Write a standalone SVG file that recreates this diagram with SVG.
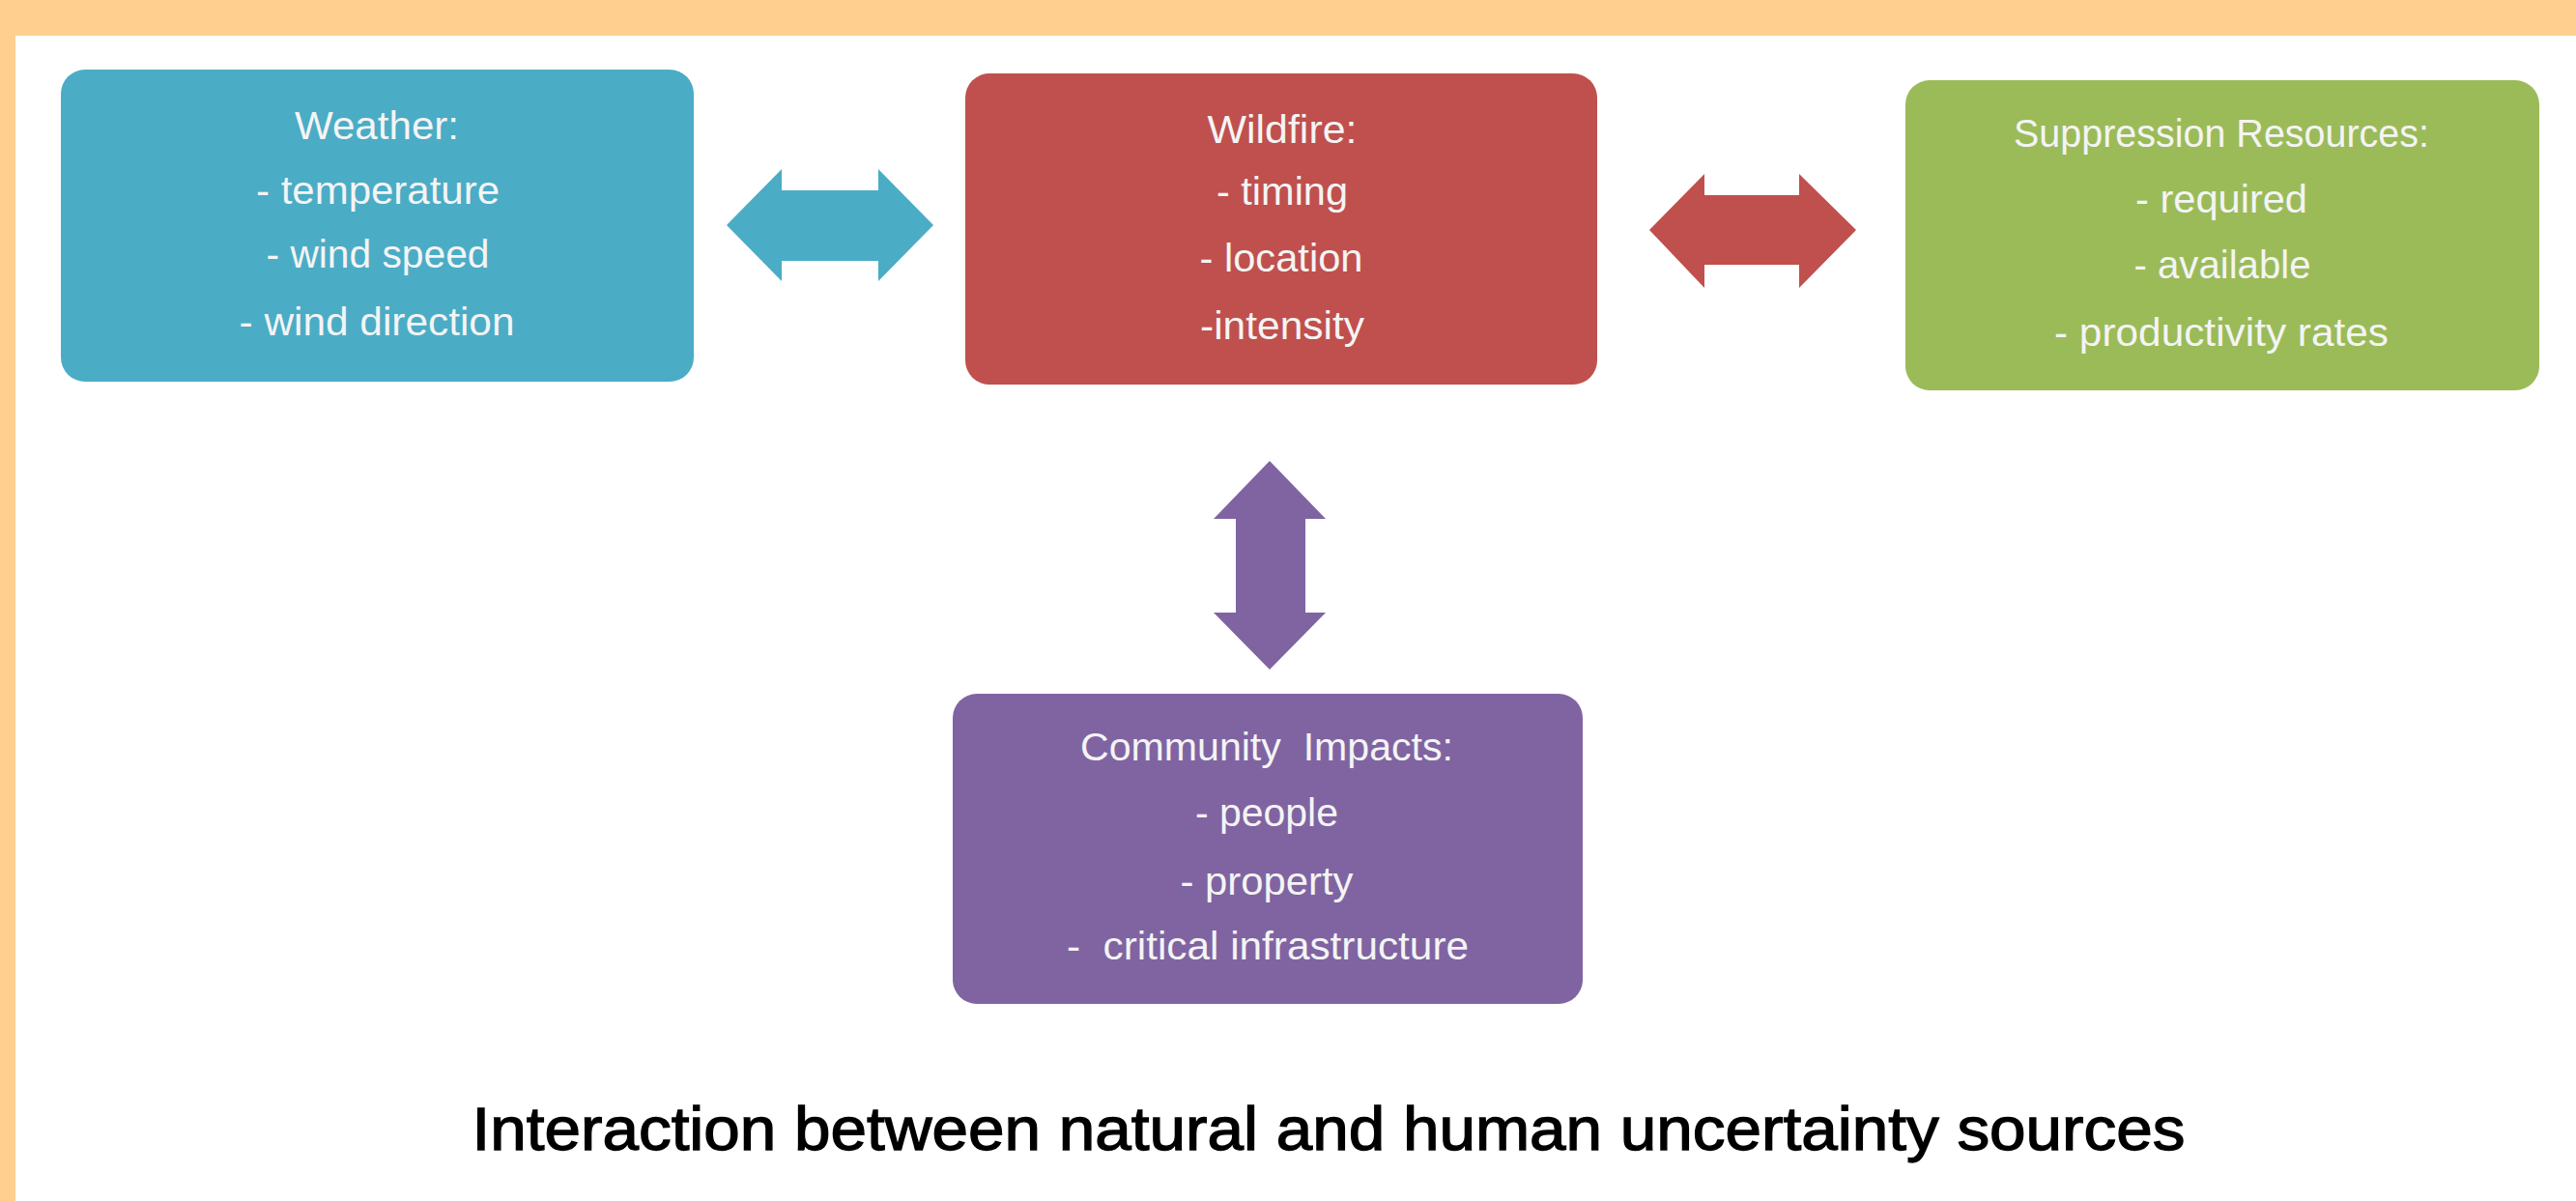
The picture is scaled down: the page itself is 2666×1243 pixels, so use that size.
<svg xmlns="http://www.w3.org/2000/svg" width="2666" height="1243" viewBox="0 0 2666 1243">
  <style>
    .box-text { font-family: "Liberation Sans", Arial, sans-serif; font-size: 41px; fill: #f4f4f4; text-anchor: middle; }
    .title { font-family: "Liberation Sans", Arial, sans-serif; font-size: 63px; fill: #000000; stroke: #000000; stroke-width: 1.3px; text-anchor: middle; }
    .weather { fill: #4BACC6; }
    .wildfire { fill: #C0504D; }
    .suppression { fill: #9BBB59; }
    .community { fill: #8064A2; }
  </style>

  <!-- page background with orange frame along top and left -->
  <rect x="0" y="0" width="2666" height="1243" fill="#ffffff"/>
  <rect x="0" y="0" width="2666" height="37" fill="#FFCF8F"/>
  <rect x="0" y="0" width="16" height="1243" fill="#FFCF8F"/>

  <!-- connectors: block double arrows -->
  <g id="connectors">
    <polygon class="weather" points="752,233 809,175 809,197 909,197 909,175 966,233 909,291 909,270 809,270 809,291"/>
    <polygon class="wildfire" points="1707,238 1764,180 1764,202 1862,202 1862,180 1921,238 1862,298 1862,274 1764,274 1764,298"/>
    <polygon class="community" points="1314,477 1372,537 1351,537 1351,634 1372,634 1314,693 1256,634 1279,634 1279,537 1256,537"/>
  </g>

  <g id="node-weather">
    <rect class="weather" x="63" y="72" width="655" height="323" rx="25" ry="25"/>
    <text class="box-text" x="390" y="144" textLength="170" lengthAdjust="spacingAndGlyphs">Weather:</text>
    <text class="box-text" x="391" y="211" textLength="252" lengthAdjust="spacingAndGlyphs">- temperature</text>
    <text class="box-text" x="391" y="277" textLength="231" lengthAdjust="spacingAndGlyphs">- wind speed</text>
    <text class="box-text" x="390" y="347" textLength="285" lengthAdjust="spacingAndGlyphs">- wind direction</text>
  </g>

  <g id="node-wildfire">
    <rect class="wildfire" x="999" y="76" width="654" height="322" rx="25" ry="25"/>
    <text class="box-text" x="1327" y="148" textLength="155" lengthAdjust="spacingAndGlyphs">Wildfire:</text>
    <text class="box-text" x="1327" y="212" textLength="136" lengthAdjust="spacingAndGlyphs">- timing</text>
    <text class="box-text" x="1326" y="281" textLength="169" lengthAdjust="spacingAndGlyphs">- location</text>
    <text class="box-text" x="1327" y="351" textLength="170" lengthAdjust="spacingAndGlyphs">-intensity</text>
  </g>

  <g id="node-suppression">
    <rect class="suppression" x="1972" y="83" width="656" height="321" rx="25" ry="25"/>
    <text class="box-text" x="2299" y="152" textLength="430" lengthAdjust="spacingAndGlyphs">Suppression Resources:</text>
    <text class="box-text" x="2299" y="220" textLength="178" lengthAdjust="spacingAndGlyphs">- required</text>
    <text class="box-text" x="2300" y="288" textLength="183" lengthAdjust="spacingAndGlyphs">- available</text>
    <text class="box-text" x="2299" y="358" textLength="346" lengthAdjust="spacingAndGlyphs">- productivity rates</text>
  </g>

  <g id="node-community">
    <rect class="community" x="986" y="718" width="652" height="321" rx="25" ry="25"/>
    <text class="box-text" x="1311" y="787" textLength="386" lengthAdjust="spacingAndGlyphs" xml:space="preserve">Community  Impacts:</text>
    <text class="box-text" x="1311" y="855" textLength="148" lengthAdjust="spacingAndGlyphs">- people</text>
    <text class="box-text" x="1311" y="926" textLength="179" lengthAdjust="spacingAndGlyphs">- property</text>
    <text class="box-text" x="1312" y="993" textLength="416" lengthAdjust="spacingAndGlyphs" xml:space="preserve">-  critical infrastructure</text>
  </g>

  <text class="title" x="1375" y="1190" textLength="1773" lengthAdjust="spacingAndGlyphs">Interaction between natural and human uncertainty sources</text>
</svg>
